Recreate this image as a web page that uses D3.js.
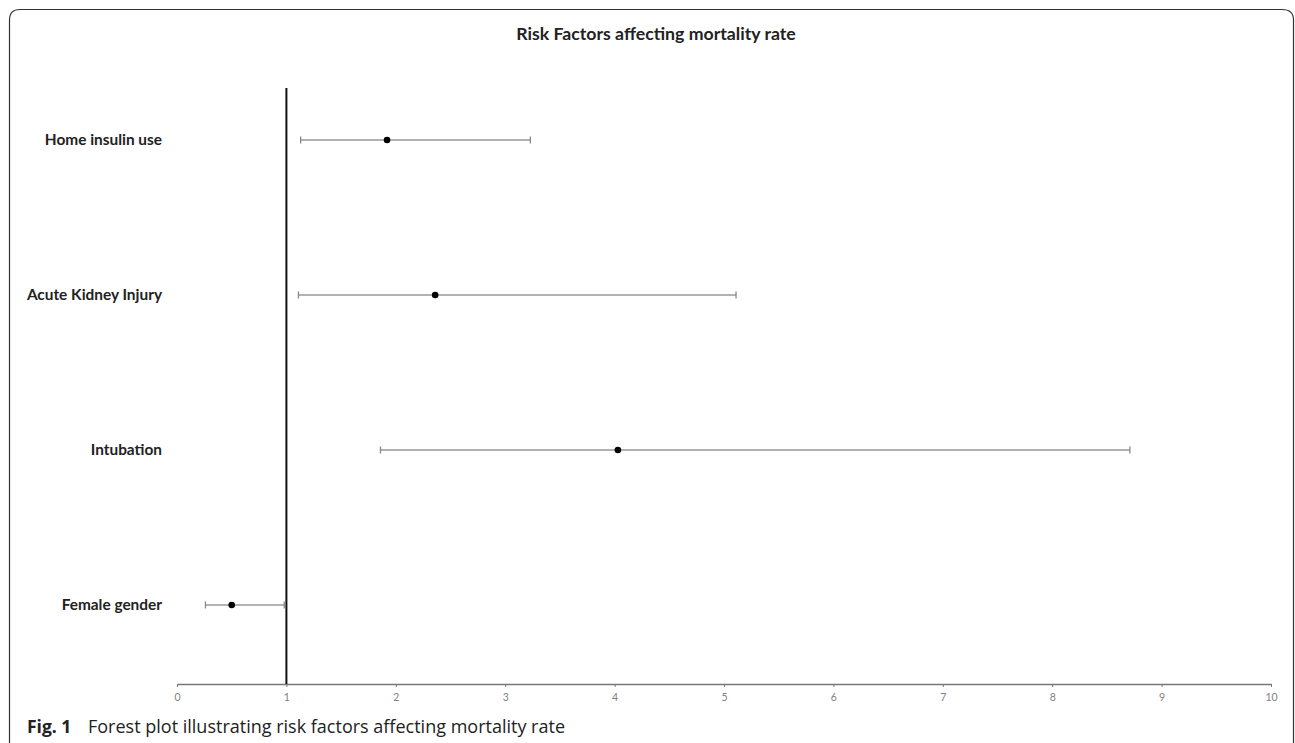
<!DOCTYPE html>
<html lang="en">
<head>
    <meta charset="UTF-8">
    <title>Risk Factors affecting mortality rate</title>
    <style>
        body { margin: 0; background: #fff; }
        svg { display: block; }
    </style>
</head>
<body>
    <div id="graphArea"></div>
    <script src="https://d3js.org/d3.v7.min.js"></script>
    <script>
        // data
        const factors = ["Home insulin use", "Acute Kidney Injury", "Intubation", "Female gender"];
        const oddsRatio = [1.92, 2.36, 4.03, 0.50];
        const lowerCI = [1.13, 1.11, 1.86, 0.26];
        const upperCI = [3.23, 5.11, 8.71, 0.98];
        const xTicks = [0, 1, 2, 3, 4, 5, 6, 7, 8, 9, 10];

        const rows = factors.map((f, i) => ({ name: f, or: oddsRatio[i], lo: lowerCI[i], hi: upperCI[i] }));

        const width = 1295, height = 743;

        const svg = d3.select("#graphArea")
            .append("svg")
            .attr("width", width)
            .attr("height", height);

        // rounded frame, open at the bottom
        svg.append("path")
            .attr("d", "M9.5,743 L9.5,20 Q9.5,9.5 20,9.5 L1282,9.5 Q1293.5,9.5 1293.5,20 L1293.5,743")
            .attr("fill", "none")
            .attr("stroke", "#333")
            .attr("stroke-width", 1.2);

        const x = d3.scaleLinear()
            .domain([0, 10])
            .range([177, 1271]);

        const y = d3.scalePoint()
            .domain(factors)
            .range([140, 605]);

        const axisY = 684;

        // x axis
        const axis = svg.append("g")
            .attr("transform", `translate(0, ${axisY})`)
            .call(d3.axisBottom(x).tickValues(xTicks).tickSize(3).tickSizeOuter(0).tickFormat(d3.format("d")));
        axis.select(".domain").attr("stroke", "#777").attr("stroke-width", 1.3);
        axis.selectAll(".tick line").attr("stroke", "#777");
        axis.selectAll(".tick text")
            .attr("fill", "#808080")
            .attr("font-family", "Lato, 'Open Sans', sans-serif")
            .attr("font-size", "10.5px")
            .attr("dy", "1.05em");

        // reference line at OR = 1
        svg.append("line")
            .attr("x1", x(1)).attr("x2", x(1))
            .attr("y1", 88).attr("y2", axisY)
            .attr("stroke", "#111")
            .attr("stroke-width", 2);

        // confidence intervals
        const g = svg.append("g");
        g.selectAll(".ci")
            .data(rows)
            .join("line")
            .attr("class", "ci")
            .attr("x1", d => x(d.lo)).attr("x2", d => x(d.hi))
            .attr("y1", d => y(d.name)).attr("y2", d => y(d.name))
            .attr("stroke", "#999")
            .attr("stroke-width", 1.6);

        ["lo", "hi"].forEach(k => {
            g.selectAll(".cap-" + k)
                .data(rows)
                .join("line")
                .attr("class", "cap-" + k)
                .attr("x1", d => x(d[k])).attr("x2", d => x(d[k]))
                .attr("y1", d => y(d.name) - 3.5).attr("y2", d => y(d.name) + 3.5)
                .attr("stroke", "#888")
                .attr("stroke-width", 1.3);
        });

        g.selectAll(".pt")
            .data(rows)
            .join("circle")
            .attr("class", "pt")
            .attr("cx", d => x(d.or))
            .attr("cy", d => y(d.name))
            .attr("r", 3.3)
            .attr("fill", "#000");

        // category labels
        svg.selectAll(".lbl")
            .data(factors)
            .join("text")
            .attr("class", "lbl")
            .attr("x", 162)
            .attr("y", d => y(d))
            .attr("dy", "0.35em")
            .attr("text-anchor", "end")
            .attr("font-family", "Lato, 'Open Sans', sans-serif")
            .attr("font-weight", "bold")
            .attr("font-size", "15.4px")
            .attr("fill", "#222")
            .text(d => d);

        // title
        svg.append("text")
            .attr("x", 656)
            .attr("y", 40)
            .attr("text-anchor", "middle")
            .attr("font-family", "Lato, 'Open Sans', sans-serif")
            .attr("font-weight", "bold")
            .attr("font-size", "17.7px")
            .attr("fill", "#222")
            .text("Risk Factors affecting mortality rate");

        // caption
        svg.append("text")
            .attr("x", 27)
            .attr("y", 733)
            .attr("font-family", "'Open Sans', sans-serif")
            .attr("font-weight", "bold")
            .attr("font-size", "17.5px")
            .attr("fill", "#222")
            .text("Fig. 1");
        svg.append("text")
            .attr("x", 88)
            .attr("y", 733)
            .attr("font-family", "'Open Sans', sans-serif")
            .attr("font-size", "18px")
            .attr("fill", "#222")
            .text("Forest plot illustrating risk factors affecting mortality rate");
    </script>
</body>
</html>
